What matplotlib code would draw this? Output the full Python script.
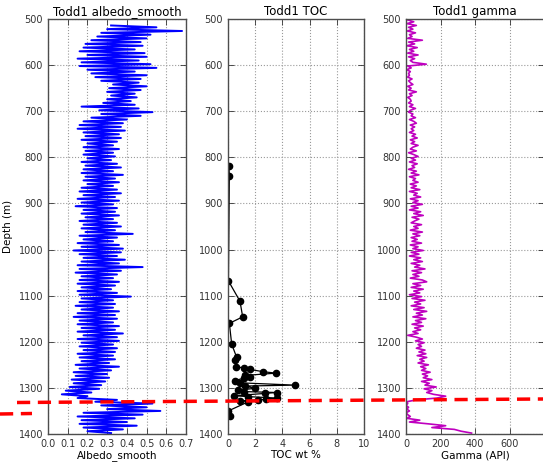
import matplotlib
matplotlib.use("Agg")
import matplotlib.pyplot as plt
import numpy as np
from matplotlib.lines import Line2D

# Todd1 well logs: albedo_smooth, TOC and gamma against depth (m)
albedo_depth = np.arange(514, 1399, 4)
albedo = [
    0.32, 0.55, 0.30, 0.68, 0.27, 0.52, 0.25, 0.50, 0.22, 0.47,
    0.19, 0.48, 0.18, 0.44, 0.16, 0.49, 0.20, 0.50, 0.15, 0.46,
    0.17, 0.52, 0.16, 0.55, 0.20, 0.44, 0.22, 0.50, 0.24, 0.47,
    0.27, 0.46, 0.33, 0.50, 0.31, 0.47, 0.30, 0.44, 0.32, 0.45,
    0.30, 0.42, 0.28, 0.44, 0.17, 0.46, 0.26, 0.53, 0.27, 0.47,
    0.22, 0.40, 0.18, 0.38, 0.16, 0.37, 0.15, 0.39, 0.18, 0.36,
    0.19, 0.37, 0.17, 0.35, 0.20, 0.33, 0.18, 0.36, 0.19, 0.33,
    0.18, 0.34, 0.20, 0.32, 0.17, 0.35, 0.19, 0.37, 0.18, 0.33,
    0.17, 0.38, 0.19, 0.34, 0.18, 0.36, 0.20, 0.33, 0.17, 0.35,
    0.16, 0.37, 0.18, 0.34, 0.15, 0.36, 0.17, 0.33, 0.14, 0.35,
    0.18, 0.34, 0.17, 0.36, 0.19, 0.33, 0.16, 0.35, 0.18, 0.37,
    0.17, 0.34, 0.19, 0.43, 0.16, 0.35, 0.18, 0.33, 0.15, 0.36,
    0.17, 0.38, 0.13, 0.37, 0.16, 0.35, 0.18, 0.39, 0.17, 0.36,
    0.15, 0.48, 0.16, 0.37, 0.14, 0.35, 0.17, 0.33, 0.16, 0.36,
    0.15, 0.34, 0.17, 0.32, 0.15, 0.35, 0.16, 0.42, 0.17, 0.33,
    0.16, 0.34, 0.14, 0.33, 0.17, 0.36, 0.15, 0.34, 0.13, 0.35,
    0.16, 0.33, 0.15, 0.36, 0.17, 0.34, 0.15, 0.38, 0.18, 0.35,
    0.15, 0.36, 0.17, 0.33, 0.16, 0.35, 0.18, 0.34, 0.15, 0.33,
    0.16, 0.34, 0.17, 0.31, 0.14, 0.36, 0.16, 0.32, 0.13, 0.30,
    0.14, 0.31, 0.12, 0.29, 0.13, 0.27, 0.11, 0.26, 0.09, 0.22,
    0.07, 0.20, 0.15, 0.35, 0.24, 0.53, 0.27, 0.50, 0.30, 0.57,
    0.18, 0.48, 0.15, 0.44, 0.17, 0.40, 0.16, 0.45, 0.18, 0.38,
    0.20, 0.32,
]

toc_depth = [818, 840, 1068, 1112, 1146, 1160, 1205, 1234, 1240, 1254,
             1257, 1260, 1265, 1268, 1273, 1277, 1279, 1284, 1289, 1294,
             1296, 1301, 1305, 1308, 1310, 1312, 1317, 1319, 1322, 1325,
             1326, 1328, 1330, 1350, 1361]
toc = [0.07, 0.10, 0.03, 0.88, 1.08, 0.10, 0.27, 0.64, 0.52, 0.60,
       1.15, 1.62, 2.60, 3.53, 1.25, 1.62, 1.15, 0.52, 0.88, 4.93,
       1.25, 1.98, 0.76, 1.15, 3.58, 2.72, 0.45, 1.50, 3.60, 2.80,
       2.20, 0.90, 1.50, 0.02, 0.15]

gamma_depth = np.arange(502, 1399, 4)
gamma = [
    10, 45, 5, 60, 15, 40, 8, 55, 20, 35,
    10, 95, 15, 50, 5, 65, 20, 45, 10, 70,
    15, 50, 25, 40, 118, 10, 30, 5, 25, 15,
    20, 10, 35, 15, 25, 40, 10, 30, 15, 60,
    20, 35, 10, 25, 30, 15, 40, 20, 55, 25,
    15, 40, 30, 55, 20, 45, 60, 25, 50, 30,
    45, 20, 55, 35, 65, 25, 50, 30, 70, 40,
    25, 60, 15, 45, 70, 30, 55, 20, 65, 35,
    50, 15, 60, 30, 75, 20, 55, 40, 70, 25,
    60, 30, 80, 20, 65, 45, 85, 25, 70, 40,
    95, 30, 70, 20, 85, 45, 100, 35, 75, 50,
    30, 90, 45, 70, 25, 95, 40, 80, 30, 65,
    35, 90, 25, 70, 40, 100, 30, 75, 20, 85,
    45, 95, 30, 80, 50, 110, 35, 90, 40, 75,
    25, 95, 120, 40, 85, 30, 100, 45, 80, 20,
    90, 35, 110, 50, 85, 30, 105, 45, 120, 60,
    95, 40, 115, 55, 90, 35, 100, 50, 85, 40,
    70, 10, 60, 95, 55, 105, 70, 90, 60, 110,
    75, 115, 65, 120, 80, 105, 70, 130, 85, 115,
    90, 140, 95, 125, 100, 150, 90, 135, 110, 175,
    105, 150, 120, 160, 230, 180, 60, 5, 10, 0,
    15, 5, 20, 0, 10, 25, 5, 80, 20, 130,
    230, 150, 280, 320, 380,
]

depth_ticks = [500, 600, 700, 800, 900, 1000, 1100, 1200, 1300, 1400]


def style_axis(ax, title, xlabel, xlim, xticks, xticklabels):
    ax.set_title(title, fontsize=8.5, pad=3)
    ax.set_xlabel(xlabel, fontsize=7.5, labelpad=1)
    ax.set_xlim(xlim)
    ax.set_xticks(xticks)
    ax.set_xticklabels(xticklabels)
    ax.set_ylim(1400, 500)
    ax.set_yticks(depth_ticks)
    ax.grid(True, color='0.6', linestyle=':', linewidth=0.8)
    ax.tick_params(direction='in', labelsize=7, top=True, right=True,
                   length=4, width=0.6, colors='0.2')
    for sp in ax.spines.values():
        sp.set_color('0.3')
        sp.set_linewidth(1.0)


fig = plt.figure(figsize=(5.43, 4.62), dpi=100)
W, H = 543.0, 462.0
bottom, height = 1 - 434 / H, 415 / H
ax1 = fig.add_axes([48 / W, bottom, 138 / W, height])
ax2 = fig.add_axes([228 / W, bottom, 136 / W, height])
ax3 = fig.add_axes([406 / W, bottom, 138 / W, height])

ax1.plot(albedo, albedo_depth, color='b', linewidth=1.4)
style_axis(ax1, 'Todd1 albedo_smooth', 'Albedo_smooth', (0, 0.7),
           np.arange(0, 0.71, 0.1), ['%.1f' % v for v in np.arange(0, 0.71, 0.1)])
ax1.set_ylabel('Depth (m)', fontsize=7.5, labelpad=4)

ax2.plot(toc, toc_depth, color='k', linewidth=0.9, marker='o', markersize=4.5)
style_axis(ax2, 'Todd1 TOC', 'TOC wt %', (0, 10),
           [0, 2, 4, 6, 8, 10], ['0', '2', '4', '6', '8', '10'])

ax3.plot(gamma, gamma_depth, color='m', linewidth=1.2)
style_axis(ax3, 'Todd1 gamma', 'Gamma (API)', (0, 800),
           [0, 200, 400, 600], ['0', '200', '400', '600'])

# hand-drawn red dashed marker lines across the panels
red_kw = dict(color='red', linewidth=2.5, dashes=[3.8, 2.2],
              transform=fig.transFigure, clip_on=False)
fig.lines.append(Line2D([17 / W, 1.0], [1 - 402.5 / H, 1 - 399 / H], **red_kw))
fig.lines.append(Line2D([0.0, 32 / W], [1 - 414 / H, 1 - 413.5 / H], **red_kw))

fig.savefig('out.png', dpi=100)
